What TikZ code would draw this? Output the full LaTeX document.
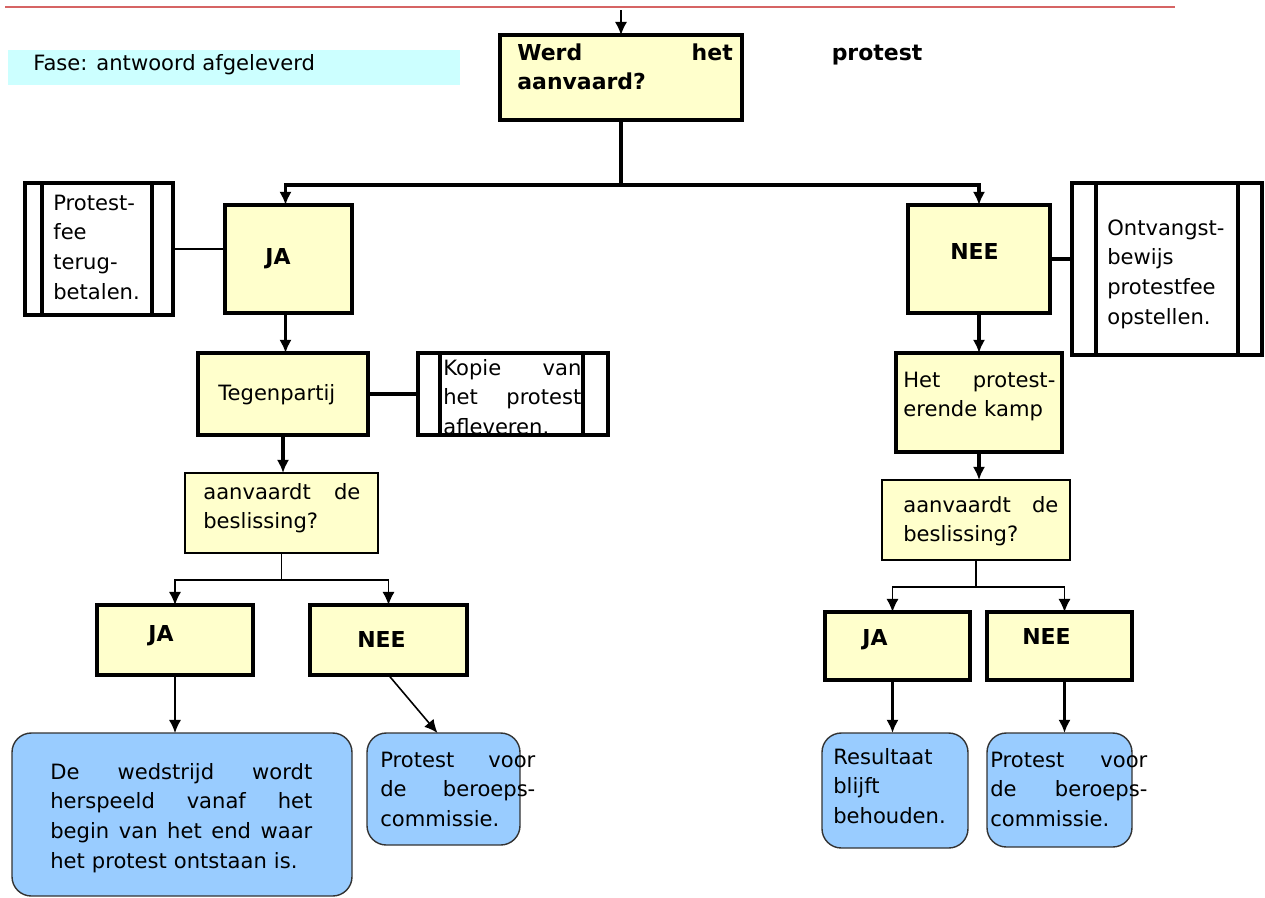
\documentclass[tikz,border=0pt]{standalone}
\usepackage{fontspec}
\setmainfont{DejaVu Sans}
\usetikzlibrary{arrows.meta}
\newlength\pu
\setlength\pu{0.02cm}
\definecolor{myellow}{RGB}{255,255,204}
\definecolor{mblue}{RGB}{153,204,255}
\definecolor{mcyan}{RGB}{204,255,255}
\definecolor{mred}{RGB}{214,100,100}
\tikzset{mbox/.style={draw,line width=2.2pt,fill=myellow,inner sep=0pt,outer sep=0pt,anchor=north west}}
\tikzset{mthinbox/.style={draw,line width=0.8pt,fill=myellow,inner sep=0pt,outer sep=0pt,anchor=north west}}
\tikzset{mside/.style={draw,line width=2.2pt,fill=white,inner sep=0pt,outer sep=0pt,anchor=north west}}
\tikzset{mend/.style={draw=black!80,line width=0.8pt,fill=mblue,rounded corners=11pt,inner sep=0pt,outer sep=0pt,anchor=north west}}
\tikzset{mtext/.style={anchor=base west,inner sep=0pt,font=\fontsize{12}{17}\selectfont}}
\tikzset{mbold/.style={mtext,font=\fontsize{12.5}{17}\selectfont\bfseries}}
\tikzset{mline/.style={line width=2pt}}
\tikzset{mthin/.style={line width=0.9pt}}
\tikzset{marrow/.style={-{Latex[length=7.5pt,width=7pt]}}}

\begin{document}
\begin{tikzpicture}[x=1\pu,y=-1\pu]
\useasboundingbox (0,0) rectangle (1265,897);

\draw[mred,line width=1pt] (5,7) -- (1175,7);
\node[fill=mcyan,minimum width=452\pu,minimum height=35\pu,inner sep=0pt,anchor=north west] (fase) at (8,50) {};
\node[mtext] (t-fase) at (33,70) {Fase: antwoord afgeleverd};

% boxes
\node[mbox,minimum width=242\pu,minimum height=85\pu] (top) at (500,35) {};
\node[mbox,minimum width=127\pu,minimum height=108\pu] (ja1) at (225,205) {};
\node[mside,minimum width=148\pu,minimum height=132\pu] (pf) at (25,183) {};
\node[mbox,minimum width=170\pu,minimum height=82\pu] (teg) at (198,353) {};
\node[mside,minimum width=190\pu,minimum height=82\pu] (kop) at (418,353) {};
\node[mthinbox,minimum width=193\pu,minimum height=80\pu] (acc1) at (185,473) {};
\node[mbox,minimum width=156\pu,minimum height=70\pu] (ja2) at (97,605) {};
\node[mbox,minimum width=157\pu,minimum height=70\pu] (nee2) at (310,605) {};
\node[mend,minimum width=340\pu,minimum height=163\pu] (end1) at (12,733) {};
\node[mend,minimum width=153\pu,minimum height=112\pu] (end2) at (367,733) {};

\node[mbox,minimum width=142\pu,minimum height=108\pu] (nee1) at (908,205) {};
\node[mside,minimum width=190\pu,minimum height=172\pu] (ont) at (1072,183) {};
\node[mbox,minimum width=166\pu,minimum height=99\pu] (het) at (896,353) {};
\node[mthinbox,minimum width=188\pu,minimum height=80\pu] (acc2) at (882,480) {};
\node[mbox,minimum width=145\pu,minimum height=68\pu] (ja3) at (825,612) {};
\node[mbox,minimum width=145\pu,minimum height=68\pu] (nee3) at (987,612) {};
\node[mend,minimum width=146\pu,minimum height=115\pu] (end3) at (822,733) {};
\node[mend,minimum width=145\pu,minimum height=114\pu] (end4) at (987,733) {};

\draw[line width=2.2pt] ([xshift=17\pu]pf.north west) -- ([xshift=17\pu]pf.south west);
\draw[line width=2.2pt] ([xshift=-21\pu]pf.north east) -- ([xshift=-21\pu]pf.south east);
\draw[line width=2.2pt] ([xshift=22\pu]kop.north west) -- ([xshift=22\pu]kop.south west);
\draw[line width=2.2pt] ([xshift=-25\pu]kop.north east) -- ([xshift=-25\pu]kop.south east);
\draw[line width=2.2pt] ([xshift=24\pu]ont.north west) -- ([xshift=24\pu]ont.south west);
\draw[line width=2.2pt] ([xshift=-24\pu]ont.north east) -- ([xshift=-24\pu]ont.south east);

% texts
\node[mbold,text width=405\pu] (t-top) at (517,60) {Werd\hfill het\hspace{99\pu}protest\\aanvaard?};
\node[mbold] (t-ja1) at (265,264) {JA};
\node[mtext,text width=100\pu] (t-pf) at (53,210) {Protest-\\fee\\terug-\\betalen.};
\node[mtext] (t-teg) at (218,400) {Tegenpartij};
\node[mtext,text width=138\pu] (t-kop) at (443,375) {Kopie\hfill van\\het\hfill protest\\afleveren.};
\draw[line width=2.2pt] (kop.south west) -- (kop.south east);
\node[mtext,text width=157\pu] (t-acc1) at (203,499) {aanvaardt\hfill de\\beslissing?};
\node[mbold] (t-ja2) at (148,641) {JA};
\node[mbold] (t-nee2) at (357,647) {NEE};
\node[mtext,text width=262\pu] (t-end1) at (50,779) {De\hfill wedstrijd\hfill wordt\\herspeeld\hfill vanaf\hfill het\\begin\hfill van\hfill het\hfill end\hfill waar\\het protest ontstaan is.};
\node[mtext,text width=155\pu] (t-end2) at (380,767) {Protest\hfill voor\\de\hfill beroeps-\\commissie.};

\node[mbold] (t-nee1) at (950,259) {NEE};
\node[mtext,text width=140\pu] (t-ont) at (1107,235) {Ontvangst-\\bewijs\\protestfee\\opstellen.};
\node[mtext,text width=152\pu] (t-het) at (903,387) {Het\hfill protest-\\erende kamp};
\node[mtext,text width=155\pu] (t-acc2) at (903,512) {aanvaardt\hfill de\\beslissing?};
\node[mbold] (t-ja3) at (862,645) {JA};
\node[mbold] (t-nee3) at (1022,644) {NEE};
\node[mtext,text width=130\pu] (t-end3) at (833,764) {Resultaat\\blijft\\behouden.};
\node[mtext,text width=157\pu] (t-end4) at (990,767) {Protest\hfill voor\\de\hfill beroeps-\\commissie.};

% connectors
\coordinate (in) at (621,10);
\coordinate (split1) at (621,185);
\draw[mthin,marrow] (in) -- (top.north);
\draw[mline] (top.south) -- (split1);
\draw[mline,marrow] (split1) -| ([xshift=-3\pu]ja1.north);
\draw[mline,marrow] (split1) -| (nee1.north);

\draw[mthin] (pf.east) -- (pf.east -| ja1.west);
\draw[mline,marrow] ([xshift=-3\pu]ja1.south) -- ([xshift=-3\pu]ja1.south |- teg.north);
\draw[mline] (teg.east) -- (kop.west);
\draw[mline,marrow] (teg.south) -- (teg.south |- acc1.north);
\coordinate (split2) at ([yshift=-27\pu]acc1.south);
\draw[mthin] (acc1.south) -- (split2);
\draw[mthin,marrow] (split2) -| (ja2.north);
\draw[mthin,marrow] (split2) -| (nee2.north);
\draw[mthin,marrow] (ja2.south) -- (ja2.south |- end1.north);
\draw[mthin,marrow] (nee2.south) -- ([xshift=-6\pu]end2.north);

\draw[mline] (nee1.east) -- (nee1.east -| ont.west);
\draw[mline,marrow] (nee1.south) -- (het.north);
\draw[mline,marrow] (het.south) -- (het.south |- acc2.north);
\coordinate (split3) at ([yshift=-27\pu]acc2.south);
\draw[mthin] (acc2.south) -- (split3);
\draw[mthin,marrow] (split3) -| ([xshift=-5\pu]ja3.north);
\draw[mthin,marrow] (split3) -| ([xshift=5\pu]nee3.north);
\draw[mline,marrow] ([xshift=-5\pu]ja3.south) -- ([xshift=-5\pu]ja3.south |- end3.north);
\draw[mline,marrow] ([xshift=5\pu]nee3.south) -- ([xshift=5\pu]nee3.south |- end4.north);

\end{tikzpicture}
\end{document}
